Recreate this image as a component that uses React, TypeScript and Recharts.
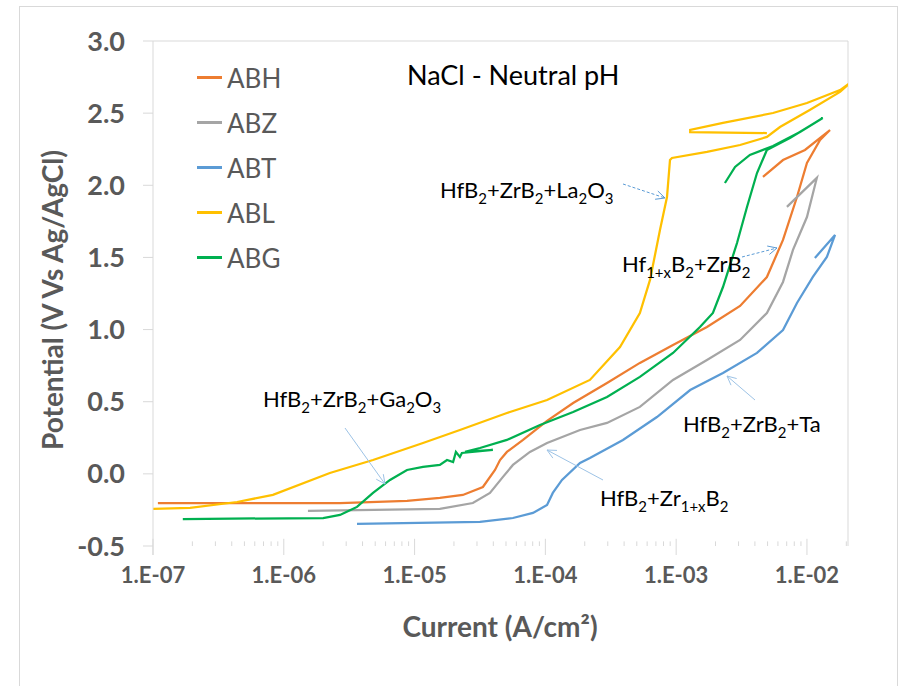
import React from "react";
import { LineChart, Line, XAxis, YAxis, ReferenceLine, Legend } from "recharts";

// current (A/cm2) and potential (V vs Ag/AgCl), in scan order
const abhCurrent = [1.09e-7, 2.69e-6, 8.75e-6, 1.56e-5, 2.34e-5, 3.33e-5, 4.12e-5, 4.5e-5, 5.08e-5, 6.75e-5, 1.03e-4, 1.63e-4, 2.96e-4, 5.28e-4, 9.46e-4, 1.72e-3, 3.08e-3, 4.94e-3, 6.56e-3, 8.39e-3, 1.0e-2, 1.26e-2, 1.5e-2, 9.66e-3, 6.56e-3, 4.61e-3];
const abhPotential = [-0.202, -0.202, -0.188, -0.167, -0.146, -0.091, 0.027, 0.096, 0.152, 0.235, 0.367, 0.491, 0.63, 0.769, 0.893, 1.018, 1.164, 1.364, 1.621, 1.919, 2.155, 2.314, 2.383, 2.245, 2.175, 2.058];

const abzCurrent = [1.53e-6, 1.56e-5, 2.79e-5, 3.77e-5, 4.74e-5, 5.65e-5, 7.62e-5, 1.03e-4, 1.84e-4, 2.96e-4, 5.28e-4, 9.46e-4, 1.72e-3, 3.08e-3, 4.94e-3, 6.56e-3, 7.82e-3, 1.0e-2, 1.19e-2, 7.03e-3];
const abzPotential = [-0.257, -0.243, -0.202, -0.132, -0.021, 0.062, 0.152, 0.214, 0.304, 0.353, 0.464, 0.651, 0.789, 0.928, 1.115, 1.33, 1.552, 1.78, 2.051, 1.85];

const abtCurrent = [3.63e-6, 3.16e-5, 5.65e-5, 8.04e-5, 1.03e-4, 1.14e-4, 1.34e-4, 1.84e-4, 2.19e-4, 3.92e-4, 7.13e-4, 1.28e-3, 2.28e-3, 4.15e-3, 6.56e-3, 8.39e-3, 1.11e-2, 1.42e-2, 1.64e-2, 1.15e-2];
const abtPotential = [-0.347, -0.333, -0.306, -0.271, -0.216, -0.132, -0.042, 0.076, 0.11, 0.235, 0.394, 0.581, 0.699, 0.838, 0.997, 1.184, 1.365, 1.503, 1.656, 1.496];

const ablCurrent = [1.0e-7, 1.92e-7, 4.39e-7, 8.26e-7, 2.25e-6, 4.81e-6, 1.16e-5, 2.22e-5, 5.08e-5, 1.03e-4, 2.19e-4, 3.72e-4, 5.28e-4, 6.31e-4, 7.52e-4, 8.51e-4, 8.97e-4, 9.29e-4, 1.72e-3, 3.08e-3, 4.94e-3, 6.22e-3, 1.05e-2, 1.79e-2, 2.13e-2, 1.79e-2, 1.0e-2, 5.5e-3, 2.28e-3, 1.28e-3, 1.28e-3, 4.94e-3];
const ablPotential = [-0.243, -0.236, -0.195, -0.146, 0.006, 0.096, 0.214, 0.304, 0.422, 0.512, 0.651, 0.879, 1.115, 1.344, 1.69, 1.919, 2.175, 2.189, 2.231, 2.279, 2.335, 2.404, 2.522, 2.647, 2.709, 2.66, 2.57, 2.501, 2.432, 2.383, 2.369, 2.362];

const abgCurrent = [1.69e-7, 2.0e-6, 2.69e-6, 3.63e-6, 4.81e-6, 6.49e-6, 8.75e-6, 1.16e-5, 1.56e-5, 1.77e-5, 1.97e-5, 2.07e-5, 2.22e-5, 2.3e-5, 3.97e-5, 2.43e-5, 3.16e-5, 5.08e-5, 9.1e-5, 1.63e-4, 2.96e-4, 5.28e-4, 9.46e-4, 1.52e-3, 1.91e-3, 2.28e-3, 2.92e-3, 3.48e-3, 4.15e-3, 4.94e-3, 7.41e-3, 1.05e-2, 1.32e-2, 8.85e-3, 5.5e-3, 3.66e-3, 2.82e-3, 2.36e-3];
const abgPotential = [-0.313, -0.306, -0.285, -0.229, -0.132, -0.042, 0.027, 0.048, 0.062, 0.096, 0.082, 0.152, 0.117, 0.145, 0.166, 0.152, 0.179, 0.235, 0.339, 0.429, 0.533, 0.672, 0.838, 1.018, 1.115, 1.295, 1.6, 1.85, 2.085, 2.245, 2.328, 2.411, 2.466, 2.369, 2.272, 2.21, 2.127, 2.016];

const xTicks = [1e-7, 1e-6, 1e-5, 1e-4, 1e-3, 1e-2];
const yTicks = [-0.5, 0, 0.5, 1, 1.5, 2, 2.5, 3];
const xMax = 0.0206;

const minorTicks: number[] = [];
xTicks.forEach((d) => {
  for (let k = 2; k <= 9; k++) if (d * k < xMax) minorTicks.push(d * k);
});

const zip = (c: number[], p: number[]) => c.map((x, i) => ({ current: x, potential: p[i] }));

const series = [
  { name: "ABH", color: "#ED7D31", data: zip(abhCurrent, abhPotential) },
  { name: "ABZ", color: "#A5A5A5", data: zip(abzCurrent, abzPotential) },
  { name: "ABT", color: "#5B9BD5", data: zip(abtCurrent, abtPotential) },
  { name: "ABL", color: "#FFC000", data: zip(ablCurrent, ablPotential) },
  { name: "ABG", color: "#00B050", data: zip(abgCurrent, abgPotential) },
];
const seriesOrder = series.map((s) => s.name);

const FONT = "Lato, 'Open Sans', sans-serif";
const GREY = "#595959";
const LINE = "#D9D9D9";

const fmtX = (v: number) => {
  const e = Math.round(Math.log10(v));
  return `1.E${e < 0 ? "-" : "+"}${String(Math.abs(e)).padStart(2, "0")}`;
};

const renderLegend = (props: any) => {
  const items = [...(props.payload || [])].sort(
    (a: any, b: any) => seriesOrder.indexOf(a.value) - seriesOrder.indexOf(b.value)
  );
  return (
    <div style={{ display: "flex", flexDirection: "column" }}>
      {items.map((p: any) => (
        <div key={p.value} style={{ display: "flex", alignItems: "center", height: 45 }}>
          <span style={{ display: "inline-block", width: 25, height: 2.5, background: p.color, marginRight: 5 }} />
          <span style={{ fontFamily: FONT, fontSize: 26, color: GREY }}>{p.value}</span>
        </div>
      ))}
    </div>
  );
};

// "HfB_2+Zr_{1+x}B_2" -> text with subscripts
function Formula({ x, y, text, size = 22 }: { x: number; y: number; text: string; size?: number }) {
  const parts: { t: string; sub: boolean }[] = [];
  let i = 0;
  let buf = "";
  while (i < text.length) {
    if (text[i] === "_") {
      if (buf) parts.push({ t: buf, sub: false });
      buf = "";
      if (text[i + 1] === "{") {
        const end = text.indexOf("}", i);
        parts.push({ t: text.slice(i + 2, end), sub: true });
        i = end + 1;
      } else {
        parts.push({ t: text[i + 1], sub: true });
        i += 2;
      }
    } else {
      buf += text[i];
      i++;
    }
  }
  if (buf) parts.push({ t: buf, sub: false });
  const shift = Math.round(size * 0.28);
  let prevSub = false;
  return (
    <text x={x} y={y} fontFamily={FONT} fontSize={size} fill="#000">
      {parts.map((p, k) => {
        const dy = p.sub && !prevSub ? shift : !p.sub && prevSub ? -shift : 0;
        prevSub = p.sub;
        return (
          <tspan key={k} dy={dy} fontSize={p.sub ? size * 0.68 : size}>
            {p.t}
          </tspan>
        );
      })}
    </text>
  );
}

function Arrow({ x1, y1, x2, y2, dashed }: { x1: number; y1: number; x2: number; y2: number; dashed?: boolean }) {
  const a = Math.atan2(y2 - y1, x2 - x1);
  const L = 10;
  const s = 0.45;
  const p1 = [x2 - L * Math.cos(a - s), y2 - L * Math.sin(a - s)];
  const p2 = [x2 - L * Math.cos(a + s), y2 - L * Math.sin(a + s)];
  const col = dashed ? "#5B9BD5" : "#9DC3E6";
  return (
    <g stroke={col} strokeWidth={1} fill="none">
      <line x1={x1} y1={y1} x2={x2} y2={y2} strokeDasharray={dashed ? "3 2" : undefined} />
      <polyline points={`${p1[0]},${p1[1]} ${x2},${y2} ${p2[0]},${p2[1]}`} />
    </g>
  );
}

export default function App() {
  return (
    <div style={{ position: "absolute", left: 0, top: 0, width: 902, height: 686, overflow: "hidden", background: "#fff" }}>
      <div style={{ position: "absolute", left: 19, top: 6, width: 877, height: 720, border: `1px solid ${LINE}` }} />
      <div style={{ position: "absolute", left: 0, top: 0 }}>
        <LineChart width={902} height={686} margin={{ top: 41, right: 54, bottom: 100, left: 0 }}>
          <XAxis
            type="number"
            dataKey="current"
            scale="log"
            domain={[1e-7, xMax]}
            allowDataOverflow
            ticks={xTicks}
            interval={0}
            tickFormatter={fmtX}
            axisLine={false}
            tickLine={{ stroke: LINE }}
            tickSize={9}
            tickMargin={12}
            height={40}
            tick={{ fill: GREY, fontSize: 22, fontWeight: 700, fontFamily: FONT }}
          />
          <YAxis
            type="number"
            domain={[-0.5, 3]}
            ticks={yTicks}
            interval={0}
            tickFormatter={(v: number) => v.toFixed(1)}
            width={153}
            axisLine={{ stroke: LINE }}
            tickLine={{ stroke: LINE }}
            tickSize={10}
            tickMargin={18}
            tick={{ fill: GREY, fontSize: 27, fontWeight: 700, fontFamily: FONT }}
          />
          <ReferenceLine y={3} stroke={LINE} />
          <ReferenceLine x={xMax} stroke={LINE} />
          {minorTicks.map((t) => (
            <ReferenceLine key={t} segment={[{ x: t, y: -0.5 }, { x: t, y: -0.468 }]} stroke={LINE} />
          ))}
          {xTicks.map((t) => (
            <ReferenceLine key={"M" + t} segment={[{ x: t, y: -0.5 }, { x: t, y: -0.45 }]} stroke={LINE} />
          ))}
          <Legend
            layout="vertical"
            align="center"
            verticalAlign="middle"
            content={renderLegend}
            wrapperStyle={{ left: 197, top: 55, width: 120, bottom: "auto", right: "auto" }}
          />
          {series.map((s) => (
            <Line
              key={s.name}
              data={s.data}
              dataKey="potential"
              name={s.name}
              type="linear"
              stroke={s.color}
              strokeWidth={2.25}
              dot={false}
              activeDot={false}
              legendType="line"
              isAnimationActive={false}
            />
          ))}
        </LineChart>
      </div>
      <svg width={902} height={686} style={{ position: "absolute", left: 0, top: 0, pointerEvents: "none" }}>
        <line x1={153} y1={546} x2={153} y2={555} stroke={LINE} />
        <text x={407} y={85} fontFamily={FONT} fontSize={27} fill="#000">NaCl - Neutral pH</text>
        <text
          x={52}
          y={300}
          transform="rotate(-90 52 300)"
          textAnchor="middle"
          dominantBaseline="central"
          fontFamily={FONT}
          fontSize={28}
          fontWeight={700}
          fill={GREY}
        >
          Potential (V Vs Ag/AgCl)
        </text>
        <text x={500} y={626} textAnchor="middle" dominantBaseline="central" fontFamily={FONT} fontSize={28} fontWeight={700} fill={GREY}>
          Current (A/cm²)
        </text>
        <Formula x={440} y={198} text="HfB_2+ZrB_2+La_2O_3" />
        <Arrow x1={623} y1={184} x2={665} y2={198} dashed />
        <Formula x={622} y={272} text="Hf_{1+x}B_2+ZrB_2" />
        <Arrow x1={742} y1={257} x2={777} y2={248} dashed />
        <Formula x={263} y={407} text="HfB_2+ZrB_2+Ga_2O_3" />
        <Arrow x1={345} y1={428} x2={385} y2={484} />
        <Formula x={683} y={432} text="HfB_2+ZrB_2+Ta" />
        <Arrow x1={755} y1={400} x2={727} y2={376} />
        <Formula x={600} y={506} text="HfB_2+Zr_{1+x}B_2" />
        <Arrow x1={603} y1={480} x2={547} y2={450} />
      </svg>
    </div>
  );
}
